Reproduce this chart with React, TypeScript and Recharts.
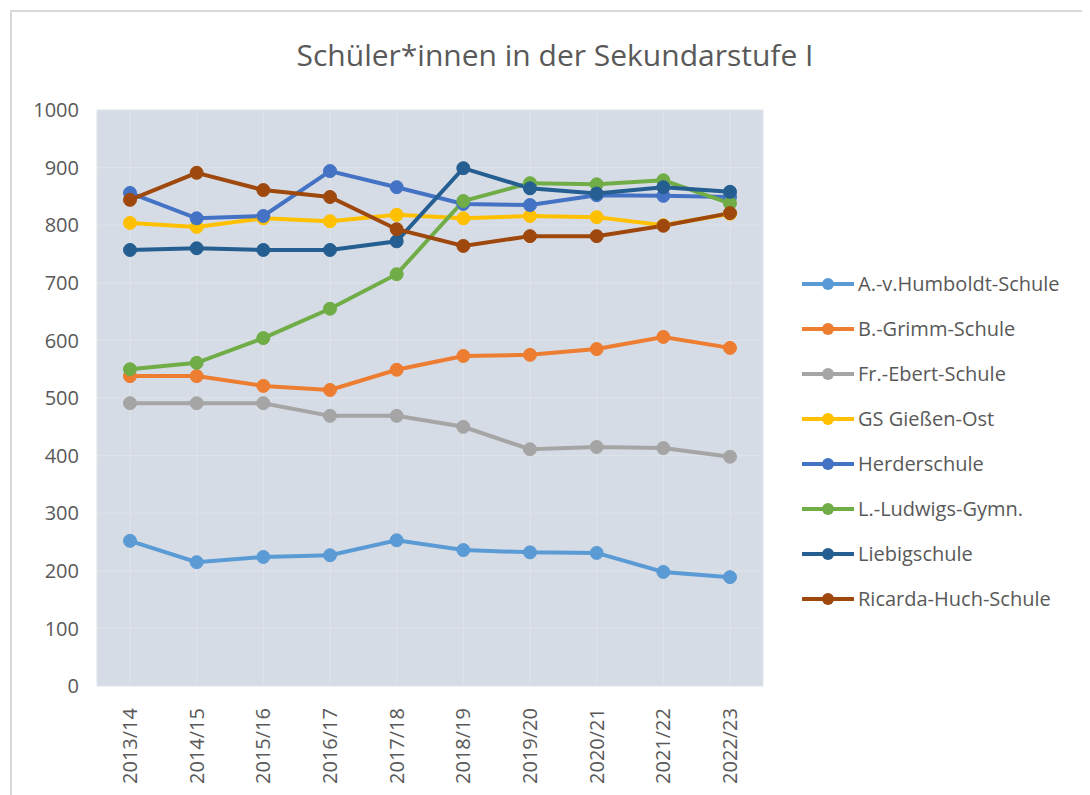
import React from "react";
import {
  LineChart,
  Line,
  XAxis,
  YAxis,
  CartesianGrid,
  Legend,
} from "recharts";

const years = [
  "2013/14", "2014/15", "2015/16", "2016/17", "2017/18",
  "2018/19", "2019/20", "2020/21", "2021/22", "2022/23",
];

const humboldt = [252, 215, 224, 227, 253, 236, 232, 231, 198, 189];
const grimm = [538, 538, 521, 514, 549, 573, 575, 585, 606, 587];
const ebert = [491, 491, 491, 469, 469, 450, 411, 415, 413, 398];
const giessenOst = [804, 797, 812, 807, 818, 812, 816, 814, 800, 820];
const herder = [856, 812, 816, 894, 866, 837, 835, 852, 851, 849];
const ludwigs = [550, 561, 604, 655, 715, 842, 873, 871, 878, 838];
const liebig = [757, 760, 757, 757, 772, 899, 864, 855, 866, 858];
const ricarda = [844, 891, 861, 849, 793, 764, 781, 781, 799, 821];

const yTicks = [0, 100, 200, 300, 400, 500, 600, 700, 800, 900, 1000];

const series = [
  { key: "humboldt", name: "A.-v.Humboldt-Schule", color: "#5B9BD5", values: humboldt },
  { key: "grimm", name: "B.-Grimm-Schule", color: "#ED7D31", values: grimm },
  { key: "ebert", name: "Fr.-Ebert-Schule", color: "#A5A5A5", values: ebert },
  { key: "giessenOst", name: "GS Gießen-Ost", color: "#FFC000", values: giessenOst },
  { key: "herder", name: "Herderschule", color: "#4472C4", values: herder },
  { key: "ludwigs", name: "L.-Ludwigs-Gymn.", color: "#70AD47", values: ludwigs },
  { key: "liebig", name: "Liebigschule", color: "#255E91", values: liebig },
  { key: "ricarda", name: "Ricarda-Huch-Schule", color: "#9E480E", values: ricarda },
];

const data = years.map((year, i) => {
  const row: Record<string, string | number> = { year };
  series.forEach((s) => {
    row[s.key] = s.values[i];
  });
  return row;
});

const FONT = "'Open Sans', sans-serif";
const TEXT = "#595959";

function YearTick(props: any) {
  const { x, y, payload } = props;
  return (
    <g transform={`translate(${x},${y + 14})`}>
      <text
        transform="rotate(-90)"
        textAnchor="end"
        dy={7}
        fill={TEXT}
        fontSize={20}
        fontFamily={FONT}
      >
        {payload.value}
      </text>
    </g>
  );
}

function LegendList(props: any) {
  const { payload } = props;
  return (
    <div style={{ fontFamily: FONT, fontSize: 20, color: TEXT }}>
      {(payload || []).map((entry: any) => (
        <div
          key={entry.value}
          style={{ display: "flex", alignItems: "center", height: 45 }}
        >
          <svg width={56} height={14} style={{ marginRight: 2 }}>
            <line x1={2} y1={7} x2={54} y2={7} stroke={entry.color} strokeWidth={4} />
            <circle cx={28} cy={7} r={6} fill={entry.color} />
          </svg>
          <span>{entry.value}</span>
        </div>
      ))}
    </div>
  );
}

export default function App() {
  return (
    <div style={{ position: "relative", width: 1082, height: 787, background: "#fff" }}>
      <div
        style={{
          position: "absolute",
          left: 2,
          top: 2,
          right: -8,
          bottom: -8,
          borderTop: "2px solid #d9d9d9",
          borderLeft: "2px solid #d9d9d9",
        }}
      />
      <div
        style={{
          position: "absolute",
          left: 0,
          width: 1094,
          top: 26,
          textAlign: "center",
          fontFamily: FONT,
          fontSize: 30,
          color: TEXT,
        }}
      >
        Schüler*innen in der Sekundarstufe I
      </div>
      <LineChart
        width={1082}
        height={787}
        data={data}
        margin={{ top: 102, right: 37, bottom: 9, left: 0 }}
        style={{ position: "absolute", left: 0, top: 0 }}
      >
        <CartesianGrid fill="#D6DCE5" stroke="#dfe3ea" strokeWidth={1} />
        <XAxis
          dataKey="year"
          height={100}
          padding={{ left: 33, right: 33 }}
          axisLine={false}
          tickLine={false}
          interval={0}
          tick={<YearTick />}
        />
        <YAxis
          width={89}
          domain={[0, 1000]}
          ticks={yTicks}
          axisLine={false}
          tickLine={false}
          tickMargin={12}
          tick={{ fill: TEXT, fontSize: 20, fontFamily: FONT }}
        />
        <Legend
          layout="vertical"
          align="right"
          verticalAlign="top"
          content={<LegendList />}
          wrapperStyle={{ left: 792, top: 253, width: 290 }}
        />
        {series.map((s) => (
          <Line
            key={s.key}
            dataKey={s.key}
            name={s.name}
            stroke={s.color}
            strokeWidth={4}
            dot={{ r: 6.5, fill: s.color, stroke: s.color, strokeWidth: 1 }}
            activeDot={false}
            isAnimationActive={false}
          />
        ))}
      </LineChart>
    </div>
  );
}
